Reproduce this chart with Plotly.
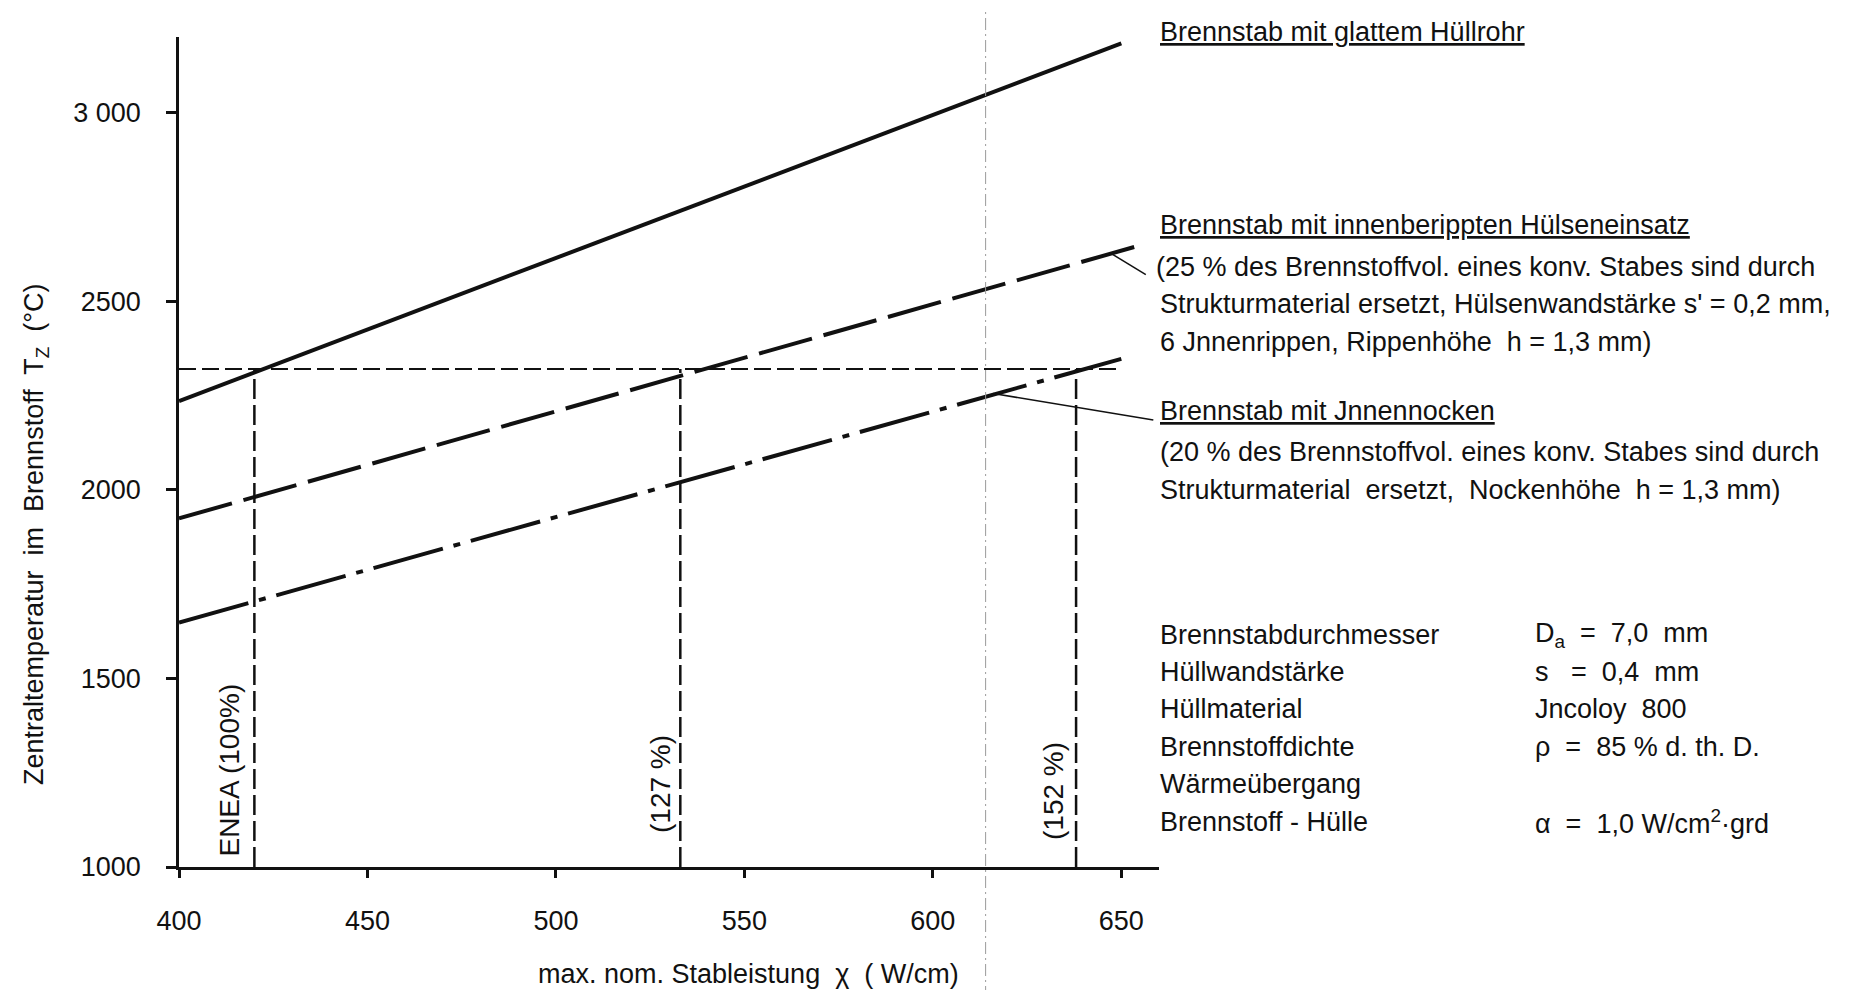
import plotly.graph_objects as go

# ---------------- data ----------------
x_glatt = [400, 650]          # Brennstab mit glattem Hüllrohr
t_glatt = [2235, 3183]
x_rippen = [400, 654]         # Brennstab mit innenberippten Hülseneinsatz
t_rippen = [1924, 2645]
x_nocken = [400, 650]         # Brennstab mit Jnnennocken
t_nocken = [1648, 2347]

t_limit = 2320                # horizontal limit temperature
x_limit = [400, 650]
x_enea, x_127, x_152 = 420, 533, 638
x_construct = 614             # faint construction line

leader1_x = [647, 656.5]
leader1_y = [2628, 2570]
leader2_x = [616, 658.5]
leader2_y = [2255, 2185]

x_ticks = [400, 450, 500, 550, 600, 650]
y_ticks = [1000, 1500, 2000, 2500, 3000]
y_ticktext = ["1000", "1500", "2000", "2500", "3 000"]

X_RANGE = [400, 660]
Y_RANGE = [1000, 3200]

# ---------------- layout geometry ----------------
W, H = 1849, 990
ML, MR, MT, MB = 171, 1849 - 1151, 29, 131
PW, PH = W - ML - MR, H - MT - MB

def px(xp):
    return (xp - ML) / PW

def py(yp):
    return (H - MB - yp) / PH

FONT = "Liberation Sans, Arial, sans-serif"
BLACK = "#111111"

fig = go.Figure()

def line(x, y, width, dash="solid", color=BLACK):
    fig.add_trace(go.Scatter(x=x, y=y, mode="lines", showlegend=False,
                             hoverinfo="skip",
                             line=dict(color=color, width=width, dash=dash)))

# main curves
line(x_glatt, t_glatt, 4)
line(x_rippen, t_rippen, 4, "55px,12px")
line(x_nocken, t_nocken, 4, "72px,11px,7px,11px")

# limit line and verticals
line(x_limit, [t_limit, t_limit], 2, "17px,6px")
for xv in (x_enea, x_127, x_152):
    line([xv, xv], [Y_RANGE[0], t_limit], 2.5, "20px,6px")

# leaders
line(leader1_x, leader1_y, 1.5)
line(leader2_x, leader2_y, 1.5)

# faint construction line across the page
xc = (x_construct - X_RANGE[0]) / (X_RANGE[1] - X_RANGE[0])
fig.add_shape(type="line", xref="paper", yref="paper",
              x0=xc, x1=xc, y0=py(H), y1=py(0),
              line=dict(color="#9a9a9a", width=1, dash="12px,4px,2px,4px"))

ann = []

def text(t, xp, yp, size=27, anchor="left", angle=0, xref="paper", yref="paper"):
    ann.append(dict(text=t, x=xp, y=yp, xref=xref, yref=yref,
                    xanchor=anchor, yanchor="middle", showarrow=False,
                    textangle=angle, font=dict(family=FONT, size=size, color=BLACK)))

# rotated labels inside plot (data coords)
text("ENEA (100%)", 413.5, 1258, size=28, anchor="center", angle=-90, xref="x", yref="y")
text("(127 %)", 527.7, 1221, size=28, anchor="center", angle=-90, xref="x", yref="y")
text("(152 %)", 632.2, 1202, size=28, anchor="center", angle=-90, xref="x", yref="y")

# axis titles
text("Zentraltemperatur  im  Brennstoff  T<sub>Z</sub>  (°C)", px(28), py(526),
     size=27, anchor="center", angle=-90)
text("max. nom. Stableistung  χ  ( W/cm)", px(740), py(966), size=27, anchor="center")

# right-hand labels
XT = px(1150)
text("<u>Brennstab mit glattem Hüllrohr</u>", XT, py(24))
text("<u>Brennstab mit innenberippten Hülseneinsatz</u>", XT, py(217))
text("(25 % des Brennstoffvol. eines konv. Stabes sind durch", px(1146), py(259))
text("Strukturmaterial ersetzt, Hülsenwandstärke s' = 0,2 mm,", XT, py(296))
text("6 Jnnenrippen, Rippenhöhe  h = 1,3 mm)", XT, py(334))
text("<u>Brennstab mit Jnnennocken</u>", XT, py(403))
text("(20 % des Brennstoffvol. eines konv. Stabes sind durch", XT, py(444))
text("Strukturmaterial  ersetzt,  Nockenhöhe  h = 1,3 mm)", XT, py(482))

params_l = ["Brennstabdurchmesser", "Hüllwandstärke", "Hüllmaterial",
            "Brennstoffdichte", "Wärmeübergang", "Brennstoff - Hülle"]
params_r = ["D<sub>a</sub>  =  7,0  mm", "s   =  0,4  mm", "Jncoloy  800",
            "ρ  =  85 % d. th. D.", "", "α  =  1,0 W/cm<sup>2</sup>·grd"]
rows_y = [627, 664, 701, 739, 776, 814]
for lab, val, yy in zip(params_l, params_r, rows_y):
    text(lab, XT, py(yy))
    if val:
        text(val, px(1525), py(yy))

axis_common = dict(showline=True, linecolor=BLACK, linewidth=2.5,
                   ticks="outside", tickcolor=BLACK, tickwidth=2.5,
                   showgrid=False, zeroline=False,
                   tickfont=dict(family=FONT, size=27, color=BLACK))

fig.update_layout(
    width=W, height=H,
    margin=dict(l=ML, r=MR, t=MT, b=MB, pad=0),
    paper_bgcolor="white", plot_bgcolor="white",
    xaxis=dict(range=X_RANGE, tickvals=x_ticks, ticklen=8,
               ticklabelstandoff=20, **axis_common),
    yaxis=dict(range=Y_RANGE, tickvals=y_ticks, ticktext=y_ticktext,
               ticklen=10, ticklabelstandoff=20, **axis_common),
    annotations=ann,
    showlegend=False,
)

fig.write_html("out.html")
